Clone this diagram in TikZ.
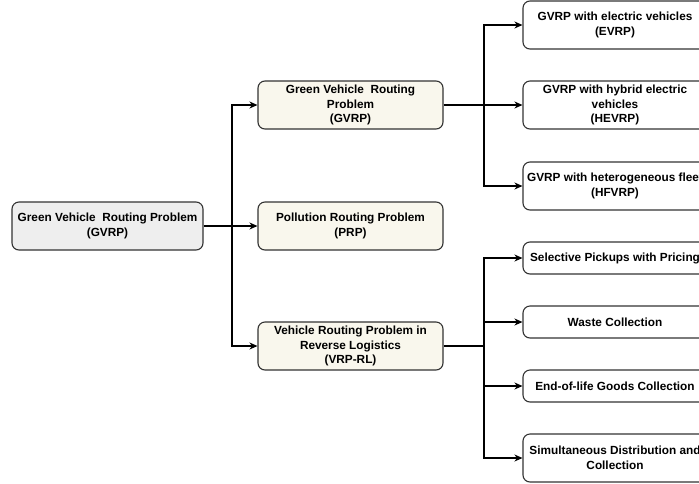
\documentclass[tikz,border=0pt]{standalone}
\usepackage{fontspec}
\setmainfont{Liberation Sans}
\usetikzlibrary{arrows.meta}
\definecolor{gbox}{HTML}{EEEEEE}
\definecolor{mbox}{HTML}{F9F7ED}
\definecolor{edge}{HTML}{333333}
\begin{document}
\begin{tikzpicture}[x=1pt,y=-1pt,
  box/.style={draw=edge, line width=1.1pt, rounded corners=7pt, align=center,
    font=\fontsize{11.8}{14.5}\selectfont\bfseries, inner sep=0pt},
  leftbox/.style={box, fill=gbox, minimum width=191pt, minimum height=48pt},
  midbox/.style={box, fill=mbox, minimum width=185pt, minimum height=48pt},
  rbox/.style={box, fill=white, minimum width=184pt, minimum height=48pt},
  rboxs/.style={box, fill=white, minimum width=184pt, minimum height=32pt},
  arr/.style={line width=1.2pt, -{Stealth[length=8pt,width=7pt,inset=2.5pt]}},
  ln/.style={line width=1.2pt}]
\useasboundingbox (0,0) rectangle (699,483);
\clip (0,0) rectangle (699,483);
\fill[white] (0,0) rectangle (699,483);

\node[leftbox] (L) at (107.5,226) {Green Vehicle\ \ Routing Problem\\(GVRP)};

\node[midbox] (G) at (350.5,105) {Green Vehicle\ \ Routing\\Problem\\(GVRP)};
\node[midbox] (P) at (350.5,226) {Pollution Routing Problem\\(PRP)};
\node[midbox] (V) at (350.5,346) {Vehicle Routing Problem in\\Reverse Logistics\\(VRP-RL)};

\node[rbox] (E1) at (615,25) {GVRP with electric vehicles\\(EVRP)};
\node[rbox] (E2) at (615,105) {GVRP with hybrid electric\\vehicles\\(HEVRP)};
\node[rbox] (E3) at (615,186) {GVRP with heterogeneous fleet\\(HFVRP)};

\node[rboxs] (R1) at (615,258) {Selective Pickups with Pricing};
\node[rboxs] (R2) at (615,322) {Waste Collection};
\node[rboxs] (R3) at (615,386) {End-of-life Goods Collection};
\node[rbox] (R4) at (615,458) {Simultaneous Distribution and\\Collection};

\coordinate (j1) at (232,226);
\coordinate (j2) at (484,105);
\coordinate (j3) at (484,346);

\draw[ln] (L.east) -- (j1);
\draw[arr] (j1) |- (G.west);
\draw[arr] (j1) -- (P.west);
\draw[arr] (j1) |- (V.west);

\draw[ln] (G.east) -- (j2);
\draw[arr] (j2) |- (E1.west);
\draw[arr] (j2) -- (E2.west);
\draw[arr] (j2) |- (E3.west);

\draw[ln] (V.east) -- (j3);
\draw[arr] (j3) |- (R1.west);
\draw[arr] (j3) |- (R2.west);
\draw[arr] (j3) |- (R3.west);
\draw[arr] (j3) |- (R4.west);
\end{tikzpicture}
\end{document}
